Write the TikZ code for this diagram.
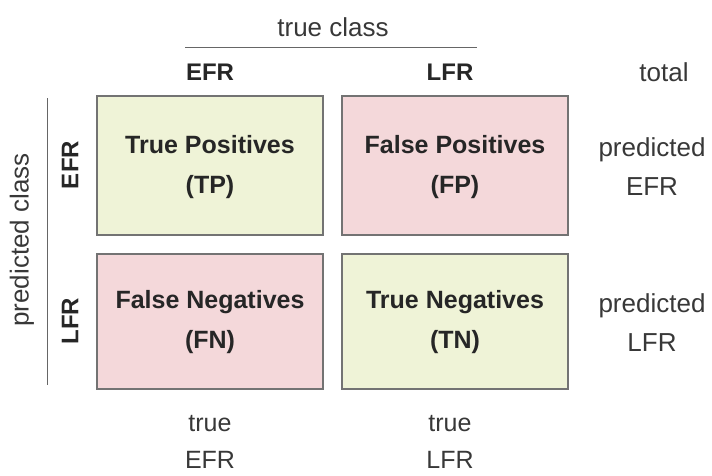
\documentclass[tikz,border=0pt]{standalone}
\usepackage{fontspec}
\setmainfont{Liberation Sans}
\begin{document}
\begin{tikzpicture}[x=1pt,y=-1pt,
  cell/.style={draw=black!55, line width=1.2pt},
  good/.style={cell, fill={rgb,255:red,239;green,243;blue,215}},
  bad/.style={cell, fill={rgb,255:red,244;green,216;blue,218}},
  celltext/.style={font=\fontsize{25}{40}\selectfont\bfseries, text=black!85, align=center},
  lbl/.style={font=\fontsize{26}{39}\selectfont, text=black!78, align=center},
  hdr/.style={font=\fontsize{24}{28}\selectfont\bfseries, text=black!85},
  rule/.style={draw=black!60, line width=1pt}]
\useasboundingbox (0,0) rectangle (712,475);
% four cells of the matrix
\draw[good] (97,96) rectangle (323,235);
\draw[bad]  (342,96) rectangle (568,235);
\draw[bad]  (97,254) rectangle (323,389);
\draw[good] (342,254) rectangle (568,389);
\node[celltext] (tp) at (210,167) {True Positives\\(TP)};
\node[celltext] (fp) at (455,167) {False Positives\\(FP)};
\node[celltext] (fn) at (210,322) {False Negatives\\(FN)};
\node[celltext] (tn) at (455,322) {True Negatives\\(TN)};
% column header
\node[lbl] (tc) at (333,27) {true class};
\coordinate (ta) at (185,47);
\coordinate (tb) at (477,47);
\draw[rule] (ta) -- (tb);
\node[hdr] (ce) at (210,72) {EFR};
\node[hdr] (cl) at (450,72) {LFR};
\node[lbl] (tot) at (664,72) {total};
% row header
\node[lbl, rotate=90] (pc) at (22,240) {predicted class};
\coordinate (la) at (47,98);
\coordinate (lb) at (47,385);
\draw[rule] (la) -- (lb);
\node[hdr, rotate=90] (re) at (70,165) {EFR};
\node[hdr, rotate=90] (rl) at (70,321) {LFR};
% row totals
\node[lbl] (pe) at (652,167) {predicted\\EFR};
\node[lbl] (pl) at (652,323) {predicted\\LFR};
% column totals
\node[lbl, font=\fontsize{25}{37}\selectfont] (be) at (210,442) {true\\EFR};
\node[lbl, font=\fontsize{25}{37}\selectfont] (bl) at (450,442) {true\\LFR};
\end{tikzpicture}
\end{document}
